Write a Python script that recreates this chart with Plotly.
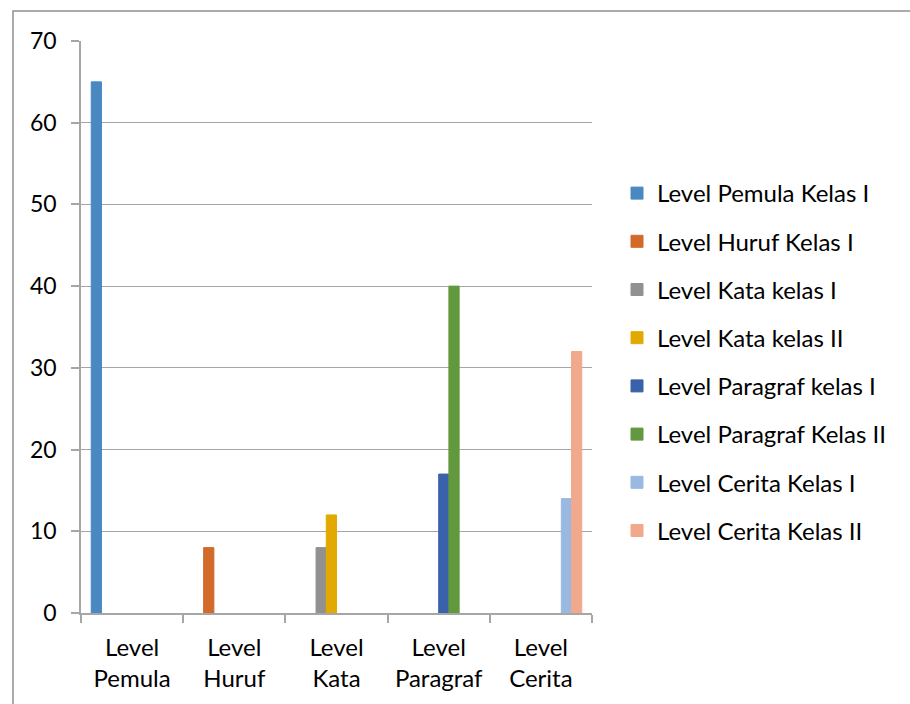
import plotly.graph_objects as go

categories = ["Level<br>Pemula", "Level<br>Huruf", "Level<br>Kata", "Level<br>Paragraf", "Level<br>Cerita"]
series_names = [
    "Level Pemula Kelas I",
    "Level Huruf Kelas I",
    "Level Kata kelas I",
    "Level Kata kelas II",
    "Level Paragraf kelas I",
    "Level Paragraf Kelas II",
    "Level Cerita Kelas I",
    "Level Cerita Kelas II",
]
pemula_1 = [65, None, None, None, None]
huruf_1 = [None, 8, None, None, None]
kata_1 = [None, None, 8, None, None]
kata_2 = [None, None, 12, None, None]
paragraf_1 = [None, None, None, 17, None]
paragraf_2 = [None, None, None, 40, None]
cerita_1 = [None, None, None, None, 14]
cerita_2 = [None, None, None, None, 32]
series_values = [pemula_1, huruf_1, kata_1, kata_2, paragraf_1, paragraf_2, cerita_1, cerita_2]
colors = ["#4A88C2", "#D26A2A", "#919191", "#E2AA00", "#3A62AA", "#62983E", "#99B9E0", "#F2A88C"]
y_ticks = [0, 10, 20, 30, 40, 50, 60, 70]

FONT = "Lato"
W, H = 910, 704
L, R, T, B = 81, 592, 41, 613

fig = go.Figure()
for i, (name, vals, col) in enumerate(zip(series_names, series_values, colors)):
    fig.add_trace(go.Bar(
        x=categories, y=vals, name=name,
        marker=dict(color=col, line=dict(width=1, color=col)),
        legendgroup=f"g{i}",
    ))

pw, ph = R - L, B - T
def px_x(v):
    return (v - L) / pw
def px_y(v):
    return (B - v) / ph

fig.add_shape(type="rect", xref="paper", yref="paper",
              x0=px_x(13), x1=px_x(920), y0=px_y(715), y1=px_y(11),
              line=dict(color="#8F8F8F", width=1.5), fillcolor="rgba(0,0,0,0)", layer="below")

fig.update_layout(
    width=W, height=H,
    margin=dict(l=L, r=W - R, t=T, b=H - B, pad=0),
    paper_bgcolor="white", plot_bgcolor="white",
    barmode="group", bargap=0.2, bargroupgap=0,
    font=dict(family=FONT, size=22, color="#000000"),
    showlegend=True,
    legend=dict(x=px_x(617), y=px_y(171), xanchor="left", yanchor="top",
                font=dict(family=FONT, size=24, color="#000000"),
                tracegroupgap=14, itemwidth=30, bgcolor="rgba(0,0,0,0)"),
    xaxis=dict(showline=True, linecolor="#A6A6A6", linewidth=1.5,
               ticks="outside", tickson="boundaries", ticklen=8, tickcolor="#A6A6A6", tickwidth=1.5,
               showgrid=False, ticklabelstandoff=12,
               tickfont=dict(family=FONT, size=24, color="#000000")),
    yaxis=dict(range=[0, 70], tickvals=y_ticks, showline=True, linecolor="#A6A6A6", linewidth=1.5,
               ticks="outside", ticklen=8, tickcolor="#A6A6A6", tickwidth=1.5,
               showgrid=True, gridcolor="#A6A6A6", gridwidth=1, zeroline=False,
               ticklabelstandoff=10,
               tickfont=dict(family=FONT, size=23, color="#000000")),
)

fig.write_html("out.html")
